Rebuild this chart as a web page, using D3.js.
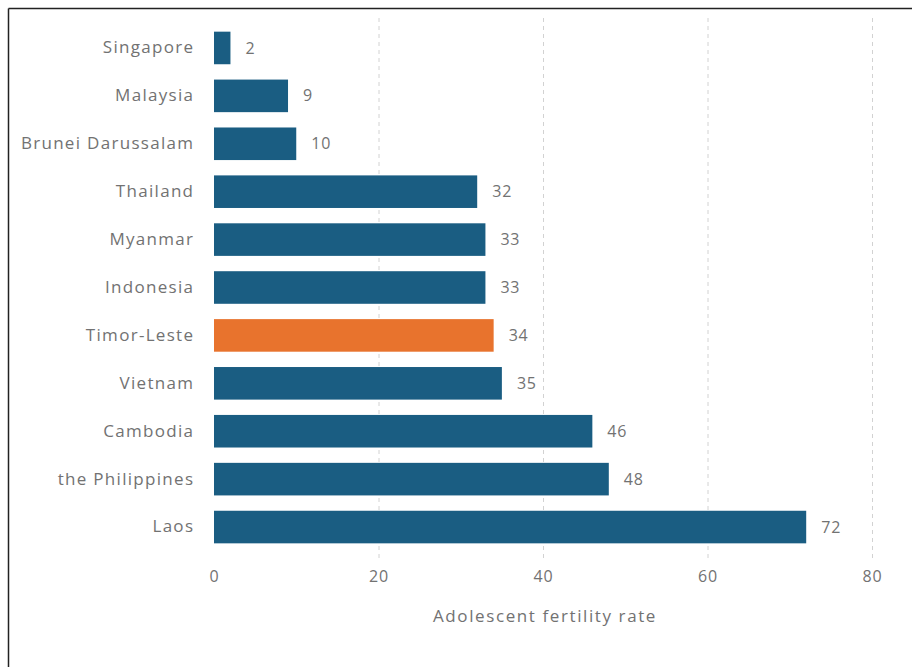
<!DOCTYPE html>
<html>
<head>
<meta charset="utf-8">
<script src="https://cdn.jsdelivr.net/npm/d3@7"></script>
<style>
  html, body { margin: 0; padding: 0; background: #fff; }
  svg { display: block; }
  text { font-family: "Open Sans", Lato, sans-serif; }
</style>
</head>
<body>
<svg id="chart" width="912" height="667"></svg>
<script>
// Adolescent fertility rate by country (births per 1,000 women aged 15-19)
const countries = ["Singapore", "Malaysia", "Brunei Darussalam", "Thailand", "Myanmar",
  "Indonesia", "Timor-Leste", "Vietnam", "Cambodia", "the Philippines", "Laos"];
const rates = [2, 9, 10, 32, 33, 33, 34, 35, 46, 48, 72];
const highlighted = ["Timor-Leste"];
const xTicks = [0, 20, 40, 60, 80];
const axisTitle = "Adolescent fertility rate";

const rows = countries.map((c, i) => ({ country: c, value: rates[i] }));

const svg = d3.select("#chart");
const blue = "#1a5d82", orange = "#e8732d", textGray = "#727272";
const fontStack = "'Open Sans', Lato, sans-serif";
const tracking = 1.3;

// frame lines on the top and left edges
svg.append("line").attr("x1", 8.5).attr("x2", 8.5).attr("y1", 8.5).attr("y2", 667)
  .attr("stroke", "#222").attr("stroke-width", 1.5);
svg.append("line").attr("x1", 8.5).attr("x2", 912).attr("y1", 8.5).attr("y2", 8.5)
  .attr("stroke", "#222").attr("stroke-width", 1.5);

const x = d3.scaleLinear().domain([0, 80]).range([214, 872]);
const y = d3.scaleBand().domain(countries).range([24, 551]).paddingInner(0.32).paddingOuter(0.16);

// dashed vertical gridlines
svg.append("g").selectAll("line").data(xTicks.filter(t => t > 0)).join("line")
  .attr("x1", d => x(d) + 0.5).attr("x2", d => x(d) + 0.5)
  .attr("y1", 18).attr("y2", 558)
  .attr("stroke", "#d2d2d2").attr("stroke-width", 1).attr("stroke-dasharray", "4,4");

// bars
svg.append("g").selectAll("rect").data(rows).join("rect")
  .attr("x", x(0)).attr("y", d => y(d.country))
  .attr("width", d => x(d.value) - x(0)).attr("height", y.bandwidth())
  .attr("fill", d => highlighted.includes(d.country) ? orange : blue);

// value labels
svg.append("g").selectAll("text").data(rows).join("text")
  .attr("x", d => x(d.value) + 15).attr("y", d => y(d.country) + y.bandwidth() / 2)
  .attr("dy", "0.35em").attr("font-size", 16).attr("letter-spacing", 0.8)
  .attr("fill", textGray)
  .text(d => d.value);

// category axis
const yAxis = svg.append("g").attr("transform", `translate(${x(0)},0)`)
  .call(d3.axisLeft(y).tickSize(0).tickPadding(21 - tracking));
yAxis.select(".domain").remove();
yAxis.selectAll("text").attr("font-size", 17).attr("fill", textGray)
  .attr("letter-spacing", tracking).attr("font-family", fontStack);

// value axis
const xAxis = svg.append("g").attr("transform", "translate(0,565)")
  .call(d3.axisBottom(x).tickValues(xTicks).tickSize(0).tickPadding(6));
xAxis.select(".domain").remove();
xAxis.selectAll("text").attr("font-size", 16).attr("fill", textGray)
  .attr("letter-spacing", 0.8).attr("font-family", fontStack);

svg.append("text").attr("x", 545).attr("y", 622).attr("text-anchor", "middle")
  .attr("font-size", 17).attr("letter-spacing", 1.6).attr("fill", textGray)
  .text(axisTitle);
</script>
</body>
</html>
